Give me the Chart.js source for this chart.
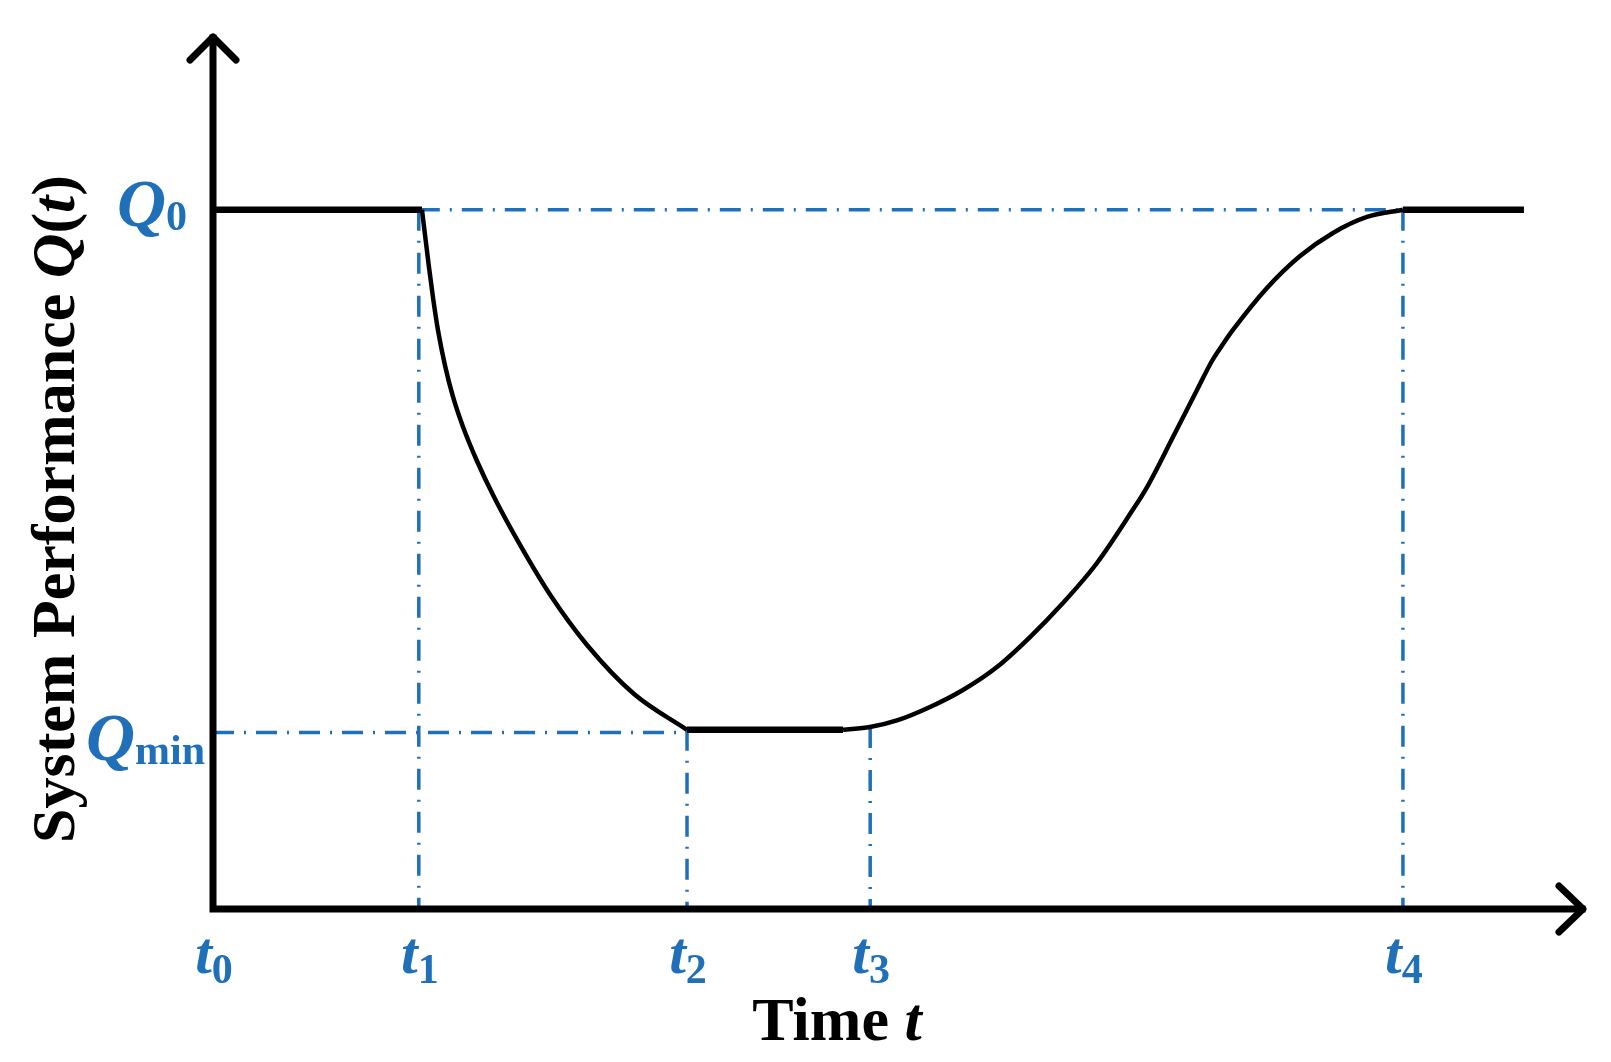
<!DOCTYPE html>
<html>
<head>
<meta charset="utf-8">
<script src="https://cdn.jsdelivr.net/npm/chart.js@4/dist/chart.umd.min.js"></script>
<style>
  html, body { margin: 0; padding: 0; background: #fff; }
  canvas { display: block; }
</style>
</head>
<body>
<canvas id="perf-chart" width="1611" height="1062"></canvas>
<script>
// key instants on the time axis (t0..t4) and performance levels
const tickTimes = [0, 15, 34.55, 47.9, 86.73];
const tickSubs = ['0', '1', '2', '3', '4'];
const qLevels = [80, 20.5];
const qSubs = ['0', 'min'];

// disruption phase: drop from Q0 just after t1 to Qmin at t2
const dropTime = [15.23, 15.74, 16.06, 16.42, 16.91, 17.49, 18.22, 19.24, 20.55, 22.38, 24.56, 27.26, 30.69, 34.55];
const dropPerf = [80, 73.46, 69.68, 66.02, 62.19, 58.62, 55.18, 51.26, 46.93, 41.65, 35.98, 30.21, 24.6, 20.5];

// recovery phase: from end of Qmin plateau back to Q0 at t4
const recTime = [45.92, 47.89, 49.85, 52.26, 54.66, 57.14, 59.55, 61.95, 64.43, 66.84, 68.08, 69.97, 71.72, 72.81, 73.62, 74.34, 76.82, 79.23, 81.63, 84.11, 86.73];
const recPerf = [20.5, 20.82, 21.57, 23.11, 25.06, 27.69, 31.12, 35.01, 39.59, 45.19, 48.28, 54.0, 59.38, 62.7, 64.65, 66.25, 71.05, 74.71, 77.35, 79.18, 80];

const endTime = 95.55;

const BLUE = '#1f70b9';
const SERIF = '"Liberation Serif", "Times New Roman", serif';

function pts(xs, ys) {
  return xs.map((x, i) => ({ x: x, y: ys[i] }));
}

function solid(data, width) {
  return {
    data: data,
    showLine: true,
    borderColor: '#000',
    borderWidth: width,
    pointRadius: 0,
    cubicInterpolationMode: 'monotone',
    borderCapStyle: 'butt',
    order: 0,
  };
}

function guide(data) {
  return {
    data: data,
    showLine: true,
    borderColor: BLUE,
    borderWidth: 3.5,
    borderDash: [21, 10, 2, 10],
    pointRadius: 0,
    tension: 0,
    order: 5,
  };
}

const datasets = [
  solid(pts([tickTimes[0], dropTime[0]], [qLevels[0], qLevels[0]]), 6.5),
  solid(pts(dropTime, dropPerf), 4.5),
  solid(pts([tickTimes[2], recTime[0]], [qLevels[1], qLevels[1]]), 6.5),
  solid(pts(recTime, recPerf), 4.5),
  solid(pts([tickTimes[4], endTime], [qLevels[0], qLevels[0]]), 6.5),
  guide(pts([tickTimes[1], tickTimes[4]], [qLevels[0], qLevels[0]])),
  guide(pts([tickTimes[0], tickTimes[2]], [20.2, 20.2])),
  guide(pts([tickTimes[1], tickTimes[1]], [qLevels[0], 0])),
  guide(pts([tickTimes[2], tickTimes[2]], [qLevels[1], 0])),
  guide(pts([tickTimes[3], tickTimes[3]], [recPerf[1], 0])),
  guide(pts([tickTimes[4], tickTimes[4]], [qLevels[0], 0])),
];

// draws a run of [text, font, dy] pieces, aligned on x
function drawRuns(ctx, runs, x, y, align) {
  let total = 0;
  runs.forEach(r => { ctx.font = r[1]; total += ctx.measureText(r[0]).width; });
  let cx = align === 'center' ? x - total / 2 : align === 'right' ? x - total : x;
  runs.forEach(r => {
    ctx.font = r[1];
    ctx.fillText(r[0], cx, y + (r[2] || 0));
    cx += ctx.measureText(r[0]).width;
  });
}

const axesPlugin = {
  id: 'axesAndLabels',
  afterDraw(chart) {
    const ctx = chart.ctx;
    const area = chart.chartArea;
    const xs = chart.scales.x;
    const ys = chart.scales.y;
    const x0 = xs.getPixelForValue(0);
    const y0 = ys.getPixelForValue(0);

    ctx.save();
    ctx.strokeStyle = '#000';
    ctx.lineWidth = 7;
    ctx.lineCap = 'square';
    ctx.beginPath();
    ctx.moveTo(x0, area.top + 3);
    ctx.lineTo(x0, y0);
    ctx.lineTo(area.right - 3, y0);
    ctx.stroke();

    ctx.lineCap = 'round';
    ctx.lineJoin = 'round';
    ctx.beginPath();
    ctx.moveTo(x0 - 23, area.top + 25);
    ctx.lineTo(x0, area.top + 2);
    ctx.lineTo(x0 + 23, area.top + 25);
    ctx.stroke();
    ctx.beginPath();
    ctx.moveTo(area.right - 26, y0 - 23);
    ctx.lineTo(area.right - 2, y0);
    ctx.lineTo(area.right - 26, y0 + 23);
    ctx.stroke();

    ctx.textBaseline = 'alphabetic';
    ctx.fillStyle = BLUE;
    const tFont = 'italic bold 60px ' + SERIF;
    const sFont = 'bold 42px ' + SERIF;
    tickTimes.forEach((t, i) => {
      drawRuns(ctx, [['t', tFont], [tickSubs[i], sFont, 10]], xs.getPixelForValue(t) + 1, 973, 'center');
    });

    const qFont = 'italic bold 68px ' + SERIF;
    const qOffsets = [16, 30];
    const qRight = [187, 205];
    qLevels.forEach((q, i) => {
      drawRuns(ctx, [['Q', qFont], [qSubs[i], sFont, 4]], qRight[i], ys.getPixelForValue(q) + qOffsets[i], 'right');
    });

    ctx.fillStyle = '#000';
    const bFont = 'bold 62px ' + SERIF;
    const biFont = 'italic bold 62px ' + SERIF;
    drawRuns(ctx, [['Time ', bFont], ['t', biFont]], (x0 + area.right) / 2 - 62, 1040, 'center');

    ctx.translate(74, 509);
    ctx.rotate(-Math.PI / 2);
    drawRuns(ctx, [['System Performance ', bFont], ['Q', biFont], ['(', bFont], ['t', biFont], [')', bFont]], 0, 0, 'center');
    ctx.restore();
  },
};

new Chart(document.getElementById('perf-chart'), {
  type: 'scatter',
  data: { datasets: datasets },
  options: {
    responsive: false,
    animation: false,
    layout: { padding: { left: 213, top: 35, right: 26, bottom: 153 } },
    scales: {
      x: { type: 'linear', min: 0, max: 100, display: false },
      y: { type: 'linear', min: 0, max: 100, display: false },
    },
    plugins: { legend: { display: false }, tooltip: { enabled: false } },
  },
  plugins: [axesPlugin],
});
</script>
</body>
</html>
